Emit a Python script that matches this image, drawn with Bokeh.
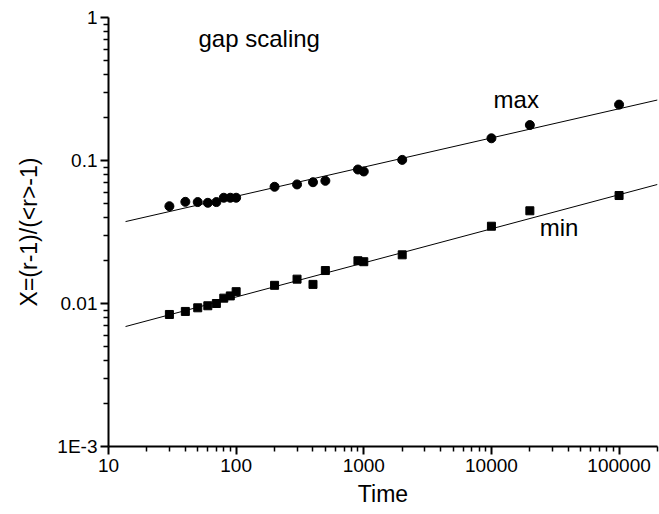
from bokeh.plotting import figure
from bokeh.models import FixedTicker, CustomJSTickFormatter, Label, Range1d
from bokeh.embed import file_html
from bokeh.resources import INLINE

# ---- data ----
time = [30, 40, 50, 60, 70, 80, 90, 100, 200, 300, 400, 500, 900, 1000,
        2000, 10000, 20000, 100000]
x_max = [0.0479, 0.0514, 0.0512, 0.0506, 0.0512, 0.0549, 0.0549, 0.0549,
         0.0655, 0.068, 0.0705, 0.0721, 0.0865, 0.0838, 0.101, 0.143,
         0.177, 0.246]
x_min = [0.00838, 0.0088, 0.00933, 0.00964, 0.0100, 0.0109, 0.0113, 0.0121,
         0.0134, 0.0148, 0.0136, 0.0170, 0.0199, 0.0196, 0.0219, 0.0347,
         0.0445, 0.0569]

fit_x = [13.6, 200000]
fit_max = [0.0374, 0.265]
fit_min = [0.0069, 0.068]

x_ticks = [10, 100, 1000, 10000, 100000]
x_tick_labels = ["10", "100", "1000", "10000", "100000"]
y_ticks = [0.001, 0.01, 0.1, 1]
y_tick_labels = ["1E-3", "0.01", "0.1", "1"]

FONT = "Liberation Sans"

p = figure(width=659, height=514, x_axis_type="log", y_axis_type="log",
           x_range=Range1d(10, 200000), y_range=Range1d(0.001, 1),
           output_backend="svg", toolbar_location=None,
           min_border_left=108, min_border_right=2, min_border_top=17,
           min_border_bottom=68)
p.outline_line_color = None
p.xgrid.visible = False
p.ygrid.visible = False
p.background_fill_color = "white"
p.border_fill_color = "white"

# fit lines
p.line(fit_x, fit_max, line_color="black", line_width=1)
p.line(fit_x, fit_min, line_color="black", line_width=1)

# data
p.scatter(time, x_max, marker="circle", size=9, fill_color="black",
          line_color="black")
p.scatter(time, x_min, marker="square", size=8, fill_color="black",
          line_color="black")

fmt_code = """
for (let i = 0; i < tvals.length; i++) {
  if (Math.abs(tick - tvals[i]) <= 1e-6 * tvals[i]) return tlabels[i];
}
return "";
"""

x_minor = [m * 10 ** k for k in range(1, 6) for m in range(2, 10)]
y_minor = [m * 10.0 ** k for k in range(-3, 0) for m in range(2, 10)]

p.xaxis.ticker = FixedTicker(ticks=x_ticks, minor_ticks=x_minor)
p.yaxis.ticker = FixedTicker(ticks=y_ticks, minor_ticks=y_minor)
p.xaxis.formatter = CustomJSTickFormatter(args=dict(tvals=x_ticks, tlabels=x_tick_labels), code=fmt_code)
p.yaxis.formatter = CustomJSTickFormatter(args=dict(tvals=y_ticks, tlabels=y_tick_labels), code=fmt_code)

for ax in (p.xaxis, p.yaxis):
    ax.axis_line_width = 2
    ax.axis_line_color = "black"
    ax.major_tick_line_width = 2
    ax.major_tick_line_color = "black"
    ax.minor_tick_line_width = 1.5
    ax.minor_tick_line_color = "black"
    ax.major_tick_out = 8
    ax.major_tick_in = 0
    ax.minor_tick_out = 5
    ax.minor_tick_in = 0
    ax.major_label_text_font = FONT
    ax.major_label_text_font_size = "19px"
    ax.major_label_text_color = "black"
    ax.axis_label_text_font = FONT
    ax.axis_label_text_font_size = "23px"
    ax.axis_label_text_font_style = "normal"
    ax.axis_label_text_color = "black"

p.xaxis.axis_label = "Time"
p.yaxis.axis_label = "X=(r-1)/(<r>-1)"
p.xaxis.major_label_standoff = 4
p.xaxis.axis_label_standoff = 6
p.yaxis.major_label_standoff = 3
p.yaxis.axis_label_standoff = 12

for txt, x, y in [("gap scaling", 50.7, 0.713), ("max", 10400, 0.267),
                  ("min", 23900, 0.034)]:
    p.add_layout(Label(x=x, y=y, text=txt, text_font=FONT,
                       text_font_size="24px", text_color="black",
                       text_baseline="alphabetic", text_align="left"))

open("out.html", "w").write(file_html(p, INLINE))
